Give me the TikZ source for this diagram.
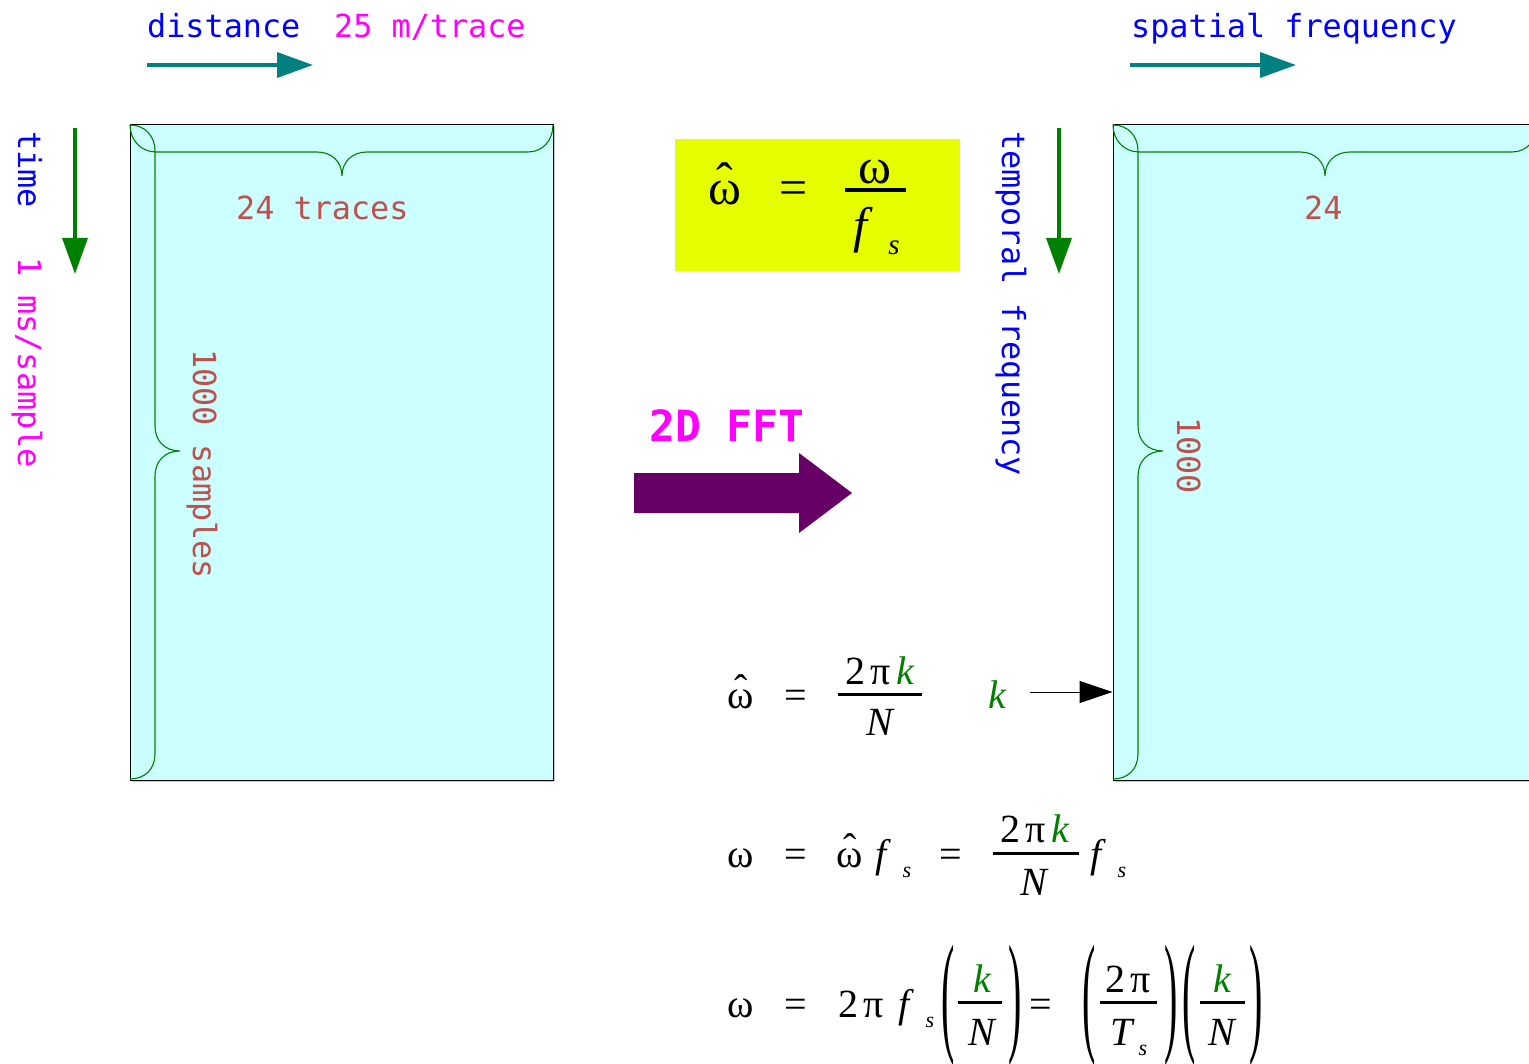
\documentclass[tikz,border=0pt]{standalone}
\usepackage{fontspec}
\usepackage{graphicx}
\usetikzlibrary{arrows.meta}
\newfontfamily\mono{DejaVu Sans Mono}
\newfontfamily\tms{Liberation Serif}
\definecolor{cyanfill}{HTML}{CCFFFF}
\definecolor{tealc}{HTML}{008080}
\definecolor{grn}{HTML}{008000}
\definecolor{redtxt}{HTML}{C0504D}
\definecolor{yel}{HTML}{E6FF00}
\definecolor{purp}{HTML}{660066}
\definecolor{mag}{HTML}{FF00FF}
\definecolor{blu}{HTML}{0000FF}
\newcommand\wh{{\ooalign{ω\cr\hidewidth\raisebox{0.15em}{ˆ}\hidewidth\cr}}}
\begin{document}
\begin{tikzpicture}[x=1pt,y=-1pt,
  lbl/.style={inner sep=0, anchor=base west, font=\fontsize{31.8}{31.8}\selectfont\mono},
  vlbl/.style={lbl, rotate=-90},
  eq/.style={inner sep=0, anchor=base, font=\fontsize{40}{40}\selectfont\tms},
  eqi/.style={eq, font=\fontsize{40}{40}\selectfont\tms\itshape},
  eqbig/.style={inner sep=0, anchor=base, font=\fontsize{50}{50}\selectfont\tms},
  eqbigi/.style={eqbig, font=\fontsize{50}{50}\selectfont\tms\itshape},
  sub/.style={inner sep=0, anchor=base, font=\fontsize{22}{22}\selectfont\tms\itshape},
  subbig/.style={inner sep=0, anchor=base, font=\fontsize{29}{29}\selectfont\tms\itshape},
  paren/.style={inner sep=0, anchor=center, font=\fontsize{40}{40}\selectfont\tms},
  fbar/.style={line width=3pt},
  brace/.style={draw=grn, line width=1.1pt},
  databox/.style={draw=black, line width=1pt, fill=cyanfill, inner sep=0},
  bigarrow/.style={line width=3.6pt, -{Triangle[length=36pt,width=25pt]}}
]
\clip (0,0) rectangle (1529,1064);
\fill[white] (0,0) rectangle (1529,1064);

% data boxes
\fill[gray!45] (131.5,126.5) rectangle (555,782);
\node[databox, minimum width=423pt, minimum height=655pt] (R1) at (341.5,452.5) {};
\fill[gray!45] (1114.5,126.5) rectangle (1580,782);
\node[databox, minimum width=460pt, minimum height=655pt] (R2) at (1343,452.5) {};

% braces left box
\draw[brace] (130,125) .. controls (130,140) and (141,152) .. (156,152) -- (317,152)
  .. controls (332,152) and (342,162) .. (342,176)
  .. controls (342,162) and (352,152) .. (367,152) -- (528,152)
  .. controls (543,152) and (553,140) .. (553,125);
\draw[brace] (130,125) .. controls (145,125) and (155,136) .. (155,151) -- (155,426)
  .. controls (155,441) and (165,451) .. (180,451)
  .. controls (165,451) and (155,461) .. (155,476) -- (155,754)
  .. controls (155,769) and (145,779) .. (130,779);
% braces right box
\draw[brace] (1113,125) .. controls (1113,140) and (1124,152) .. (1139,152) -- (1300,152)
  .. controls (1315,152) and (1325,162) .. (1325,176)
  .. controls (1325,162) and (1335,152) .. (1350,152) -- (1512,152)
  .. controls (1527,152) and (1537,140) .. (1537,125);
\draw[brace] (1113,125) .. controls (1128,125) and (1138,136) .. (1138,151) -- (1138,426)
  .. controls (1138,441) and (1148,451) .. (1163,451)
  .. controls (1148,451) and (1138,461) .. (1138,476) -- (1138,754)
  .. controls (1138,769) and (1128,779) .. (1113,779);

% labels
\node[lbl, text=blu] (dist) at (147,38) {distance};
\node[lbl, text=mag] (dx) at (334,38) {25 m/trace};
\node[lbl, text=blu] (spf) at (1131,38) {spatial frequency};
\node[lbl, text=redtxt] (tr) at (236,220) {24 traces};
\node[lbl, text=redtxt] (tr2) at (1304,220) {24};
\node[vlbl, text=blu] (time) at (18,131) {time};
\node[vlbl, text=mag] (dt) at (18,257) {1 ms/sample};
\node[vlbl, text=blu] (tf) at (1002,131) {temporal frequency};
\node[vlbl, text=redtxt] (smp) at (193,349) {1000 samples};
\node[vlbl, text=redtxt] (smp2) at (1177,417) {1000};

% axis arrows
\coordinate (ta1) at (147,65); \coordinate (ta2) at (313,65);
\draw[bigarrow, tealc] (ta1) -- (ta2);
\coordinate (tb1) at (1130,65); \coordinate (tb2) at (1296,65);
\draw[bigarrow, tealc] (tb1) -- (tb2);
\coordinate (ga1) at (75,128); \coordinate (ga2) at (75,274);
\draw[bigarrow, grn] (ga1) -- (ga2);
\coordinate (gb1) at (1059,128); \coordinate (gb2) at (1059,274);
\draw[bigarrow, grn] (gb1) -- (gb2);

% 2D FFT arrow
\node[inner sep=0, anchor=base west, font=\fontsize{43}{43}\selectfont\mono\bfseries, text=mag] (fft) at (649,442) {2D FFT};
\fill[purp] (634,473) -- (799,473) -- (799,453) -- (852,493) -- (799,533) -- (799,513) -- (634,513) -- cycle;

% yellow formula
\node[fill=yel, inner sep=0, minimum width=285pt, minimum height=132pt] (Y) at (817.5,205) {};
\node[eqbig] (y1) at (725,205) {\wh};
\node[eqbig] (y2) at (794,205) {=};
\node[eqbig] (y3) at (875,184) {ω};
\draw[line width=3.2pt] (845,190) -- (906,190);
\node[eqbigi] (y4) at (860,243) {f};
\node[subbig] (y5) at (894,255) {s};

% line 1
\node[eq] (a1) at (741,708) {\wh};
\node[eq] (a2) at (796,708) {=};
\node[eq] (a3) at (880,684) {2\kern5ptπ\kern6pt\textcolor{grn}{\textit{k}}};
\draw[fbar] (838,694) -- (922,694);
\node[eqi] (a4) at (880,735) {N};
\node[eqi, text=grn] (kk) at (997,708) {k};
\coordinate (ka) at (1030,692);
\draw[line width=1pt, -{Triangle[length=33pt,width=22pt]}] (ka) -- (ka -| R2.west);

% line 2
\node[eq] (b1) at (741,867) {ω};
\node[eq] (b2) at (796,867) {=};
\node[eq] (b3) at (850,867) {\wh};
\node[eqi] (b4) at (881,867) {f};
\node[sub] (b5) at (907,877) {s};
\node[eq] (b6) at (951,867) {=};
\node[eq] (b7) at (1035,842) {2\kern5ptπ\kern6pt\textcolor{grn}{\textit{k}}};
\draw[fbar] (993,853) -- (1079,853);
\node[eqi] (b8) at (1034,895) {N};
\node[eqi] (b9) at (1096,867) {f};
\node[sub] (b10) at (1122,877) {s};

% line 3
\node[eq] (c1) at (741,1017) {ω};
\node[eq] (c2) at (796,1017) {=};
\node[eq] (c3) at (861,1017) {2\kern5ptπ};
\node[eqi] (c4) at (904,1017) {f};
\node[sub] (c5) at (930,1027) {s};
\node[paren] (c6) at (948,1005) {\scalebox{1}[3.33]{(}};
\node[eqi, text=grn] (c7) at (982,992) {k};
\draw[fbar] (958,1002) -- (1002,1002);
\node[eqi] (c8) at (982,1045) {N};
\node[paren] (c9) at (1015,1005) {\scalebox{1}[3.33]{)}};
\node[eq] (c10) at (1041,1017) {=};
\node[paren] (c11) at (1089,1005) {\scalebox{1}[3.33]{(}};
\node[eq] (c12) at (1128,992) {2\kern5ptπ};
\draw[fbar] (1100,1002) -- (1157,1002);
\node[eqi] (c13) at (1122,1045) {T};
\node[sub] (c14) at (1143,1055) {s};
\node[paren] (c15) at (1171,1005) {\scalebox{1}[3.33]{)}};
\node[paren] (c16) at (1189,1005) {\scalebox{1}[3.33]{(}};
\node[eqi, text=grn] (c17) at (1222,992) {k};
\draw[fbar] (1200,1002) -- (1245,1002);
\node[eqi] (c18) at (1222,1045) {N};
\node[paren] (c19) at (1256,1005) {\scalebox{1}[3.33]{)}};
\end{tikzpicture}
\end{document}
